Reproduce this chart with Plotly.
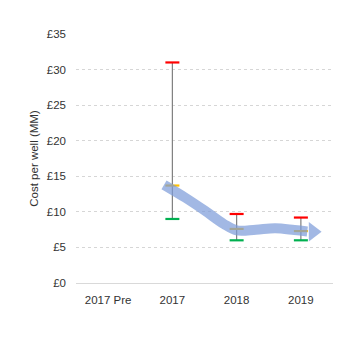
import plotly.graph_objects as go

categories = ["2017 Pre", "2017", "2018", "2019"]
high_vals = [None, 31.0, 9.7, 9.2]
low_vals = [None, 9.0, 6.0, 6.0]
mid_vals = [None, 13.7, 7.6, 7.3]

# trend arrow path (x in category index units)
trend_x = [0.87, 1.2, 1.5, 1.8, 2.0, 2.3, 2.6, 2.9, 3.1]
trend_y = [13.8, 12.0, 10.2, 8.3, 7.4, 7.5, 7.7, 7.45, 7.25]
arrow_tip_x = [3.19]
arrow_tip_y = [7.2]

yticks = [0, 5, 10, 15, 20, 25, 30, 35]

fig = go.Figure()

idx = [i for i, v in enumerate(high_vals) if v is not None]
vx, vy = [], []
for i in idx:
    vx += [i, i, None]
    vy += [low_vals[i], high_vals[i], None]
fig.add_trace(go.Scatter(x=vx, y=vy, mode="lines",
                         line=dict(color="#7f7f7f", width=1.2), hoverinfo="skip"))

def caps(vals, color):
    fig.add_trace(go.Scatter(x=idx, y=[vals[i] for i in idx], mode="markers",
                             marker=dict(symbol="line-ew", size=10,
                                         line=dict(color=color, width=2.2))))

caps(high_vals, "#ff0000")
caps(low_vals, "#00b050")
caps(mid_vals, "#ffc000")

fig.add_trace(go.Scatter(x=trend_x, y=trend_y, mode="lines", line_shape="spline",
                         line=dict(color="#7b9bd9", width=10), opacity=0.7))
fig.add_trace(go.Scatter(x=arrow_tip_x, y=arrow_tip_y, mode="markers",
                         marker=dict(symbol="triangle-right", size=17,
                                     color="#7b9bd9", line=dict(width=0)),
                         opacity=0.7))

font = dict(family="Liberation Sans, Arial, sans-serif", size=11.5, color="#333333")
fig.update_layout(
    width=344, height=337, showlegend=False,
    margin=dict(l=76, r=11, t=34, b=54),
    paper_bgcolor="white", plot_bgcolor="white", font=font,
    xaxis=dict(range=[-0.5, 3.5], tickmode="array", tickvals=list(range(len(categories))),
               ticktext=categories, showgrid=False, zeroline=False,
               showline=True, linecolor="#d9d9d9", linewidth=1,
               ticks="", ticklabelstandoff=6),
    yaxis=dict(range=[0, 35], tickmode="array", tickvals=yticks,
               ticktext=["£%d" % v for v in yticks],
               showgrid=True, gridcolor="#d6d6d6", griddash="3px,3px", gridwidth=1,
               zeroline=False, showline=False, ticks="", ticklabelstandoff=9,
               title=dict(text="Cost per well (MM)", standoff=5, font=font)),
)

fig.write_html("out.html")
